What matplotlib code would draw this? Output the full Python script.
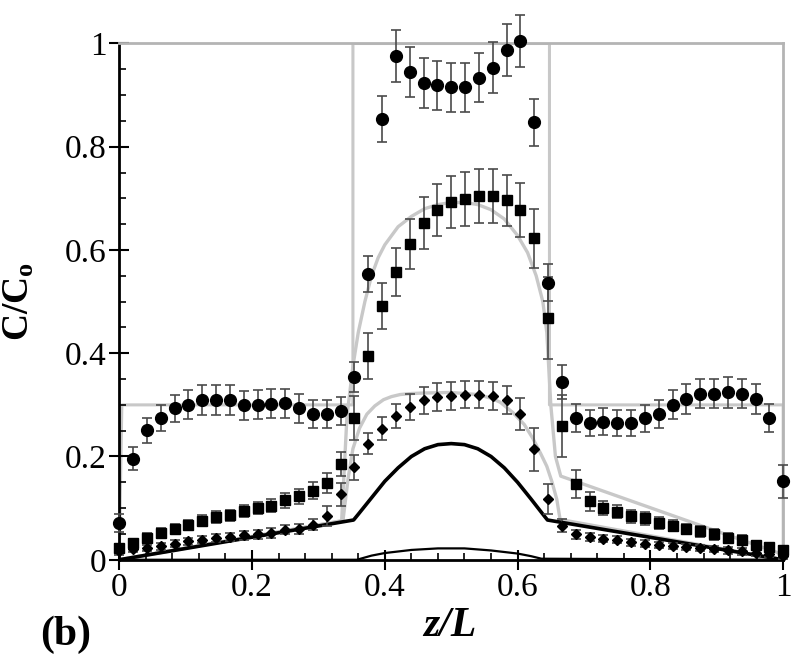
import matplotlib.pyplot as plt
import numpy as np
from matplotlib.ticker import MultipleLocator

plt.rcParams['font.family'] = ['Liberation Serif', 'DejaVu Serif']
plt.rcParams['mathtext.fontset'] = 'custom'
plt.rcParams['mathtext.bf'] = 'Liberation Serif:bold'
plt.rcParams['mathtext.rm'] = 'Liberation Serif'

# measurement positions (49 evenly spaced stations)
z = np.linspace(0, 1, 49)

circ = [0.071, 0.196, 0.251, 0.274, 0.293, 0.300, 0.309, 0.309, 0.309, 0.299,
        0.300, 0.302, 0.303, 0.293, 0.283, 0.283, 0.288, 0.354, 0.553, 0.854,
        0.976, 0.945, 0.924, 0.919, 0.915, 0.915, 0.934, 0.953, 0.987, 1.005,
        0.847, 0.537, 0.344, 0.274, 0.265, 0.267, 0.265, 0.265, 0.274, 0.283,
        0.300, 0.312, 0.322, 0.322, 0.324, 0.322, 0.312, 0.274, 0.152]
circ_err = [0.018, 0.022, 0.024, 0.025, 0.027, 0.028, 0.029, 0.029, 0.029, 0.028,
            0.028, 0.028, 0.028, 0.028, 0.027, 0.027, 0.027, 0.030, 0.035, 0.045,
            0.050, 0.048, 0.048, 0.048, 0.047, 0.047, 0.048, 0.049, 0.050, 0.050,
            0.045, 0.035, 0.033, 0.027, 0.026, 0.026, 0.026, 0.026, 0.026, 0.027,
            0.028, 0.029, 0.029, 0.029, 0.030, 0.029, 0.029, 0.027, 0.032]

sq = [0.023, 0.032, 0.042, 0.052, 0.060, 0.067, 0.076, 0.083, 0.086, 0.094,
      0.100, 0.105, 0.115, 0.123, 0.134, 0.149, 0.186, 0.275, 0.395, 0.492,
      0.557, 0.612, 0.652, 0.678, 0.693, 0.699, 0.704, 0.704, 0.696, 0.678,
      0.623, 0.468, 0.259, 0.146, 0.113, 0.100, 0.093, 0.084, 0.080, 0.071,
      0.066, 0.060, 0.055, 0.049, 0.042, 0.038, 0.029, 0.024, 0.018]
sq_err = [0.008, 0.008, 0.009, 0.009, 0.010, 0.010, 0.011, 0.011, 0.011, 0.012,
          0.012, 0.013, 0.014, 0.015, 0.017, 0.020, 0.023, 0.043, 0.045, 0.045,
          0.047, 0.048, 0.050, 0.050, 0.050, 0.052, 0.052, 0.052, 0.050, 0.052,
          0.057, 0.080, 0.060, 0.027, 0.019, 0.014, 0.013, 0.012, 0.012, 0.011,
          0.011, 0.010, 0.010, 0.010, 0.009, 0.009, 0.008, 0.008, 0.008]

dia = [0.016, 0.021, 0.023, 0.026, 0.031, 0.036, 0.039, 0.042, 0.044, 0.047,
       0.049, 0.052, 0.058, 0.060, 0.068, 0.085, 0.127, 0.179, 0.225, 0.254,
       0.278, 0.296, 0.309, 0.316, 0.317, 0.320, 0.320, 0.317, 0.309, 0.283,
       0.214, 0.117, 0.066, 0.049, 0.044, 0.041, 0.039, 0.034, 0.031, 0.028,
       0.026, 0.025, 0.023, 0.021, 0.018, 0.016, 0.013, 0.011, 0.008]
dia_err = [0.006, 0.006, 0.006, 0.007, 0.007, 0.007, 0.007, 0.008, 0.008, 0.008,
           0.008, 0.009, 0.009, 0.010, 0.011, 0.020, 0.022, 0.024, 0.021, 0.023,
           0.023, 0.025, 0.026, 0.027, 0.027, 0.027, 0.027, 0.027, 0.027, 0.031,
           0.042, 0.029, 0.012, 0.008, 0.008, 0.007, 0.007, 0.007, 0.007, 0.006,
           0.006, 0.006, 0.006, 0.006, 0.006, 0.006, 0.006, 0.006, 0.006]

# model curves
step_z = [0, 0.004, 0.352, 0.352, 0.648, 0.648, 1.0, 1.0]
step_c = [0, 0.30, 0.30, 1.0, 1.0, 0.30, 0.30, 0]

mid_z = [0, 0.335, 0.343, 0.352, 0.36, 0.37, 0.38, 0.39, 0.40, 0.42, 0.44,
         0.46, 0.48, 0.50, 0.52, 0.54, 0.56, 0.58, 0.60, 0.615, 0.628, 0.638,
         0.644, 0.650, 0.657, 0.665, 1.0]
mid_c = [0, 0.075, 0.278, 0.375, 0.44, 0.50, 0.55, 0.585, 0.61, 0.645, 0.665,
         0.68, 0.688, 0.692, 0.692, 0.688, 0.678, 0.66, 0.628, 0.595, 0.55, 0.50,
         0.44, 0.30, 0.20, 0.162, 0.01]

low_z = [0, 0.337, 0.345, 0.352, 0.362, 0.373, 0.385, 0.398, 0.41, 0.423, 0.44,
         0.46, 0.5, 0.54, 0.56, 0.574, 0.593, 0.61, 0.623, 0.635, 0.644, 0.652,
         0.659, 0.664, 1.0]
low_c = [0, 0.076, 0.16, 0.215, 0.255, 0.282, 0.298, 0.31, 0.316, 0.32, 0.322,
         0.323, 0.324, 0.32, 0.313, 0.305, 0.285, 0.262, 0.235, 0.205, 0.181,
         0.15, 0.117, 0.078, 0]

blk_z = [0, 0.353, 0.36, 0.38, 0.40, 0.42, 0.44, 0.46, 0.48, 0.50, 0.52, 0.54,
         0.56, 0.58, 0.60, 0.62, 0.64, 0.645, 1.0]
blk_c = [0, 0.077, 0.088, 0.12, 0.152, 0.178, 0.200, 0.215, 0.223, 0.225,
         0.223, 0.215, 0.200, 0.178, 0.150, 0.118, 0.085, 0.077, 0]

bump_z = [0, 0.358, 0.38, 0.40, 0.44, 0.48, 0.52, 0.56, 0.60, 0.62, 0.636, 1.0]
bump_c = [0, 0, 0.008, 0.013, 0.019, 0.022, 0.022, 0.018, 0.012, 0.007, 0.002, 0]

xticks = [0, 0.2, 0.4, 0.6, 0.8, 1]
xlabels = ['0', '0.2', '0.4', '0.6', '0.8', '1']
yticks = [0, 0.2, 0.4, 0.6, 0.8, 1]
ylabels = ['0', '0.2', '0.4', '0.6', '0.8', '1']

fig = plt.figure(figsize=(8, 6.64), dpi=100)
ax = fig.add_axes([0.149, 0.157, 0.83, 0.7775])

gray = '#c8c8c8'
ax.plot(step_z, step_c, color=gray, lw=2.2, zorder=1)
ax.plot(mid_z, mid_c, color=gray, lw=2.4, zorder=1)
ax.plot(low_z, low_c, color=gray, lw=2.4, zorder=1)
ax.plot(blk_z, blk_c, color='black', lw=2.6, zorder=2)
ax.plot(bump_z, bump_c, color='black', lw=1.6, zorder=2)

ebs = []
ebs.append(ax.errorbar(z, circ, yerr=circ_err, fmt='o', color='black', ms=8.5,
                       ecolor='#4a4a4a', elinewidth=1.2, capsize=3.5, capthick=1.2, zorder=4))
ebs.append(ax.errorbar(z, sq, yerr=sq_err, fmt='s', color='black', ms=7.5,
                       ecolor='#4a4a4a', elinewidth=1.2, capsize=3.5, capthick=1.2, zorder=4))
ebs.append(ax.errorbar(z, dia, yerr=dia_err, fmt='D', color='black', ms=5.5,
                       ecolor='#4a4a4a', elinewidth=1.2, capsize=3.5, capthick=1.2, zorder=4))
for eb in ebs:
    for a in eb.get_children():
        a.set_clip_on(False)

ax.set_xlim(0, 1)
ax.set_ylim(0, 1)
ax.set_xticks(xticks)
ax.set_xticklabels(xlabels)
ax.set_yticks(yticks)
ax.set_yticklabels(ylabels)
ax.xaxis.set_minor_locator(MultipleLocator(0.04))
ax.yaxis.set_minor_locator(MultipleLocator(0.05))
ax.tick_params(which='major', direction='inout', length=14, width=1.5,
               labelsize=24, pad=2, top=False, right=False)
ax.tick_params(which='minor', direction='in', length=5, width=1.2,
               top=False, right=False)

for s in ['left', 'bottom']:
    ax.spines[s].set_linewidth(2)
    ax.spines[s].set_color('black')
for s in ['top', 'right']:
    ax.spines[s].set_linewidth(2)
    ax.spines[s].set_color('#b4b4b4')

ax.set_ylabel(r'$\mathbf{C/C_o}$', fontsize=27)
ax.yaxis.set_label_coords(-0.125, 0.5)
ax.set_xlabel('z/L', fontsize=30, fontweight='bold', fontstyle='italic')
ax.xaxis.set_label_coords(0.4985, -0.092)
fig.text(0.05, 0.028, '(b)', fontsize=30, fontweight='bold')

plt.savefig('out.png', dpi=100)
